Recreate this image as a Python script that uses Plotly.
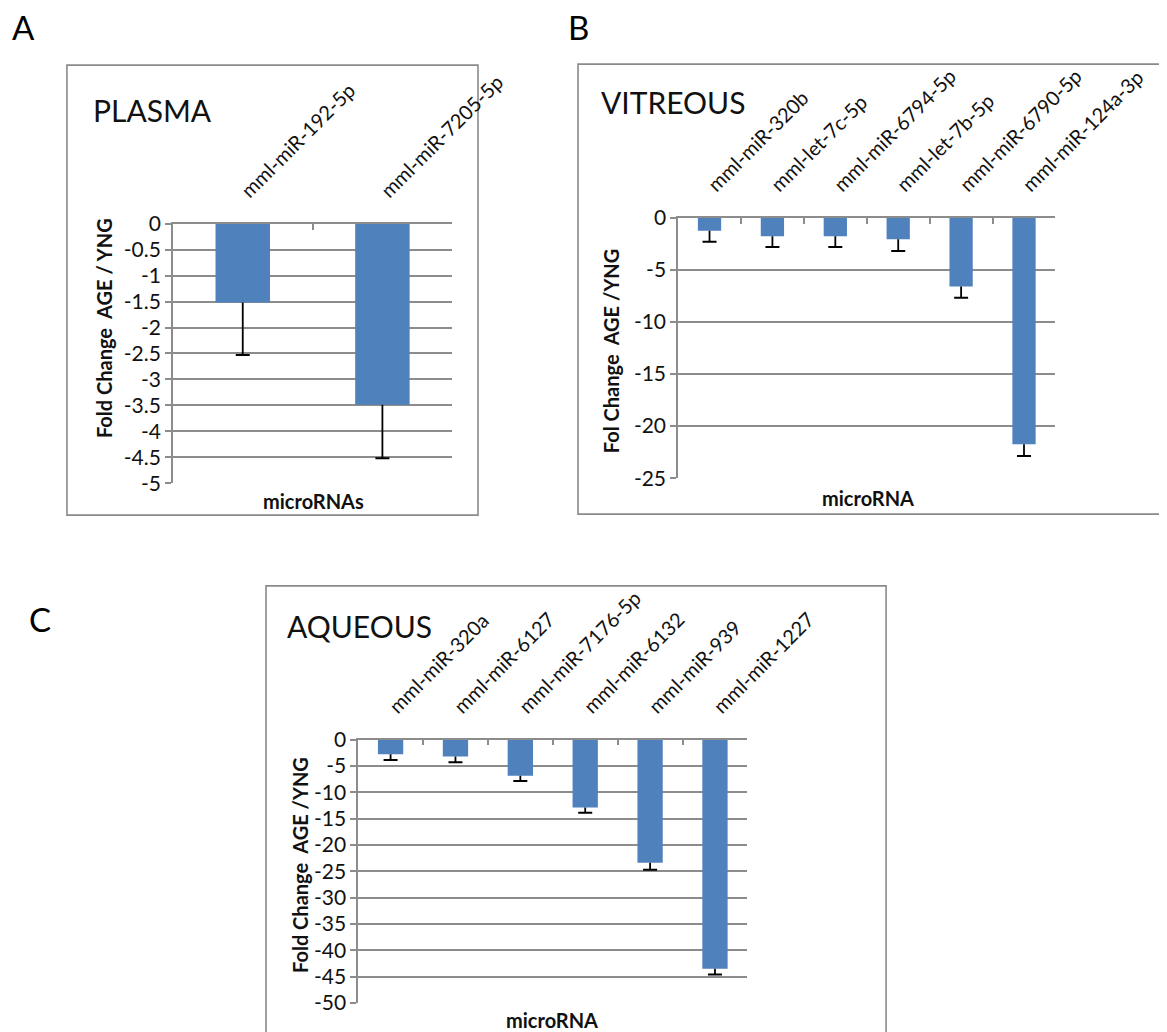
import plotly.graph_objects as go

W, H = 1167, 1032

# ---------------- data ----------------
plasma_mirnas = ["mml-miR-192-5p", "mml-miR-7205-5p"]
plasma_fc = [-1.52, -3.49]
plasma_err = [1.01, 1.03]
plasma_ticks = [0, -0.5, -1, -1.5, -2, -2.5, -3, -3.5, -4, -4.5, -5]
plasma_ticklabels = ["0", "-0.5", "-1", "-1.5", "-2", "-2.5", "-3", "-3.5", "-4", "-4.5", "-5"]

vitreous_mirnas = ["mml-miR-320b", "mml-let-7c-5p", "mml-miR-6794-5p",
                   "mml-let-7b-5p", "mml-miR-6790-5p", "mml-miR-124a-3p"]
vitreous_fc = [-1.25, -1.78, -1.78, -2.07, -6.6, -21.75]
vitreous_err = [1.05, 1.02, 1.02, 1.12, 1.09, 1.12]
vitreous_ticks = [0, -5, -10, -15, -20, -25]
vitreous_ticklabels = ["0", "-5", "-10", "-15", "-20", "-25"]

aqueous_mirnas = ["mml-miR-320a", "mml-miR-6127", "mml-miR-7176-5p",
                  "mml-miR-6132", "mml-miR-939", "mml-miR-1227"]
aqueous_fc = [-2.8, -3.2, -6.85, -12.9, -23.4, -43.5]
aqueous_err = [1.1, 1.1, 1.0, 1.0, 1.3, 1.1]
aqueous_ticks = [0, -5, -10, -15, -20, -25, -30, -35, -40, -45, -50]
aqueous_ticklabels = ["0", "-5", "-10", "-15", "-20", "-25", "-30", "-35", "-40", "-45", "-50"]

# ---------------- styling / layout ----------------
FONT = "Lato"
BLUE = "#4f81bd"
GRID = "#8c8c8c"
TXT = "#111111"

# page-pixel -> layout-pixel correction (observed offset/scale of the rendered page)
SX, OX = 0.93, 6.5
SY, OY = 0.978, 19.8


def px(x):
    return ((x - OX) / SX) / W


def py(y):
    return 1 - ((y - OY) / SY) / H


panels = [
    dict(suffix="", cats=plasma_mirnas, fc=plasma_fc, err=plasma_err,
         ticks=plasma_ticks, ticklabels=plasma_ticklabels,
         dom_x=(173, 455), dom_y=(222, 482), bw=0.39,
         box=(66, 63, 481, 514),
         title="PLASMA", title_pos=(90, 108),
         ytitle="Fold Change\u00a0\u00a0AGE / YNG", ytitle_pos=(103, 327),
         xtitle="microRNAs", xtitle_pos=(315, 500)),
    dict(suffix="2", cats=vitreous_mirnas, fc=vitreous_fc, err=vitreous_err,
         ticks=vitreous_ticks, ticklabels=vitreous_ticklabels,
         dom_x=(683, 1064), dom_y=(216, 477), bw=0.37,
         box=(582, 62, 1200, 513),
         title="VITREOUS", title_pos=(603, 100),
         ytitle="Fol Change\u00a0\u00a0AGE /YNG", ytitle_pos=(616, 350),
         xtitle="microRNA", xtitle_pos=(875, 497)),
    dict(suffix="3", cats=aqueous_mirnas, fc=aqueous_fc, err=aqueous_err,
         ticks=aqueous_ticks, ticklabels=aqueous_ticklabels,
         dom_x=(360, 753), dom_y=(739, 1003), bw=0.39,
         box=(267, 585, 893, 1060),
         title="AQUEOUS", title_pos=(286, 625),
         ytitle="Fold Change\u00a0\u00a0AGE /YNG", ytitle_pos=(302, 865),
         xtitle="microRNA", xtitle_pos=(556, 1020)),
]

fig = go.Figure()
shapes = []
annotations = []
layout_axes = {}

for p in panels:
    s = p["suffix"]
    n = len(p["cats"])
    fig.add_trace(go.Bar(
        x=p["cats"], y=p["fc"], width=p["bw"],
        marker=dict(color=BLUE, line=dict(width=0)),
        error_y=dict(type="data", symmetric=False, array=[0] * n,
                     arrayminus=p["err"], color="black", thickness=1.8, width=0),
        xaxis="x" + s, yaxis="y" + s, showlegend=False, hoverinfo="x+y",
    ))
    fig.add_trace(go.Scatter(
        x=p["cats"], y=[v - e for v, e in zip(p["fc"], p["err"])],
        mode="markers",
        marker=dict(symbol="line-ew", size=10, line=dict(color="black", width=2)),
        xaxis="x" + s, yaxis="y" + s, showlegend=False, hoverinfo="skip",
    ))
    layout_axes["xaxis" + s] = dict(
        domain=[px(p["dom_x"][0]), px(p["dom_x"][1])],
        anchor="y" + s, side="top", type="category",
        range=[-0.5, n - 0.5],
        showline=True, linecolor=GRID, linewidth=1.6,
        ticks="inside", tickson="boundaries", ticklen=6, tickcolor=GRID, tickwidth=1.6,
        tickangle=-45, ticklabelstandoff=12,
        tickfont=dict(family=FONT, size=20, color=TXT),
        showgrid=False, zeroline=False,
    )
    layout_axes["yaxis" + s] = dict(
        domain=[py(p["dom_y"][1]), py(p["dom_y"][0])],
        anchor="x" + s,
        range=[p["ticks"][-1], 0],
        tickmode="array", tickvals=p["ticks"], ticktext=p["ticklabels"],
        showgrid=True, gridcolor=GRID, gridwidth=1.6,
        showline=True, linecolor=GRID, linewidth=1.6,
        ticks="outside", ticklen=6, tickcolor=GRID, tickwidth=1.6,
        tickfont=dict(family=FONT, size=21, color=TXT),
        zeroline=False,
    )
    x0, y0, x1, y1 = p["box"]
    shapes.append(dict(type="rect", xref="paper", yref="paper",
                       x0=px(x0), x1=px(x1), y0=py(y1), y1=py(y0),
                       line=dict(color="#8a8a8a", width=1.6), fillcolor="rgba(0,0,0,0)",
                       layer="below"))
    annotations.append(dict(text=p["title"], xref="paper", yref="paper",
                            x=px(p["title_pos"][0]), y=py(p["title_pos"][1]),
                            xanchor="left", yanchor="middle", showarrow=False,
                            font=dict(family=FONT, size=30, color=TXT)))
    annotations.append(dict(text="<b>" + p["ytitle"] + "</b>", xref="paper", yref="paper",
                            x=px(p["ytitle_pos"][0]), y=py(p["ytitle_pos"][1]),
                            xanchor="center", yanchor="middle", showarrow=False,
                            textangle=-90,
                            font=dict(family=FONT, size=20, color=TXT)))
    annotations.append(dict(text="<b>" + p["xtitle"] + "</b>", xref="paper", yref="paper",
                            x=px(p["xtitle_pos"][0]), y=py(p["xtitle_pos"][1]),
                            xanchor="center", yanchor="middle", showarrow=False,
                            font=dict(family=FONT, size=20, color=TXT)))

for letter, (lx, ly) in {"A": (9, 25), "B": (570, 25), "C": (26, 618)}.items():
    annotations.append(dict(text=letter, xref="paper", yref="paper",
                            x=px(lx), y=py(ly), xanchor="left", yanchor="middle",
                            showarrow=False, font=dict(family=FONT, size=33, color="black")))

fig.update_layout(
    width=W, height=H,
    margin=dict(l=0, r=0, t=0, b=0),
    paper_bgcolor="white", plot_bgcolor="white",
    shapes=shapes, annotations=annotations,
    showlegend=False,
    **layout_axes,
)

fig.write_html("out.html")
